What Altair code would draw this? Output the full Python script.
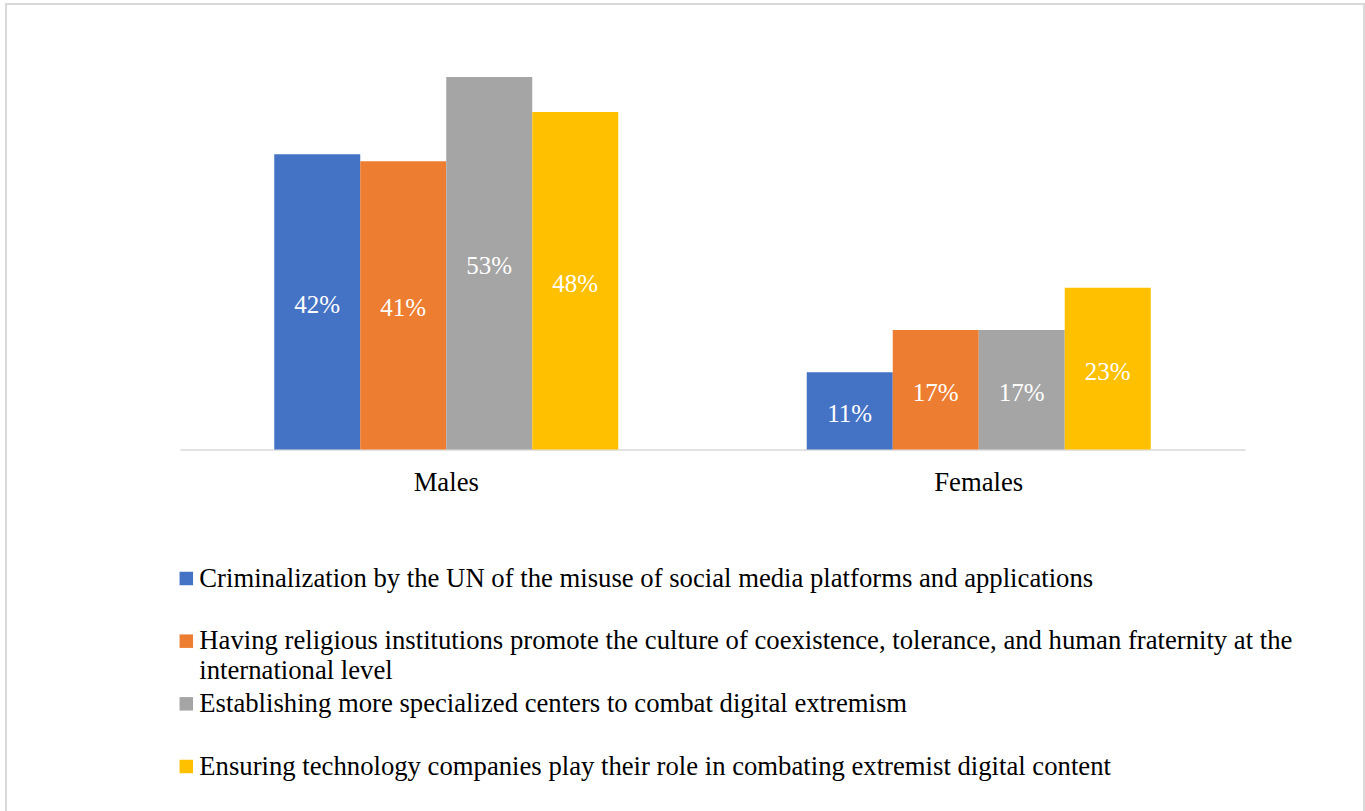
import altair as alt
import pandas as pd

# Survey responses by gender (share of respondents, %)
groups = ["Males", "Females"]
series = [
    "Criminalization by the UN of the misuse of social media platforms and applications",
    "Having religious institutions promote the culture of coexistence, tolerance, and human fraternity at the international level",
    "Establishing more specialized centers to combat digital extremism",
    "Ensuring technology companies play their role in combating extremist digital content",
]
legend_text = [
    series[0],
    "Having religious institutions promote the culture of coexistence, tolerance, and human fraternity at the\ninternational level",
    series[2],
    series[3],
]
males = [42, 41, 53, 48]
females = [11, 17, 17, 23]
colors = ["#4472C4", "#ED7D31", "#A5A5A5", "#FFC000"]

rows = []
for g, vals in zip(groups, [males, females]):
    for s, v in zip(series, vals):
        rows.append({"group": g, "series": s, "value": v})
bars_df = pd.DataFrame(rows)
legend_df = pd.DataFrame({"series": series, "label": legend_text})

FONT = "Liberation Serif"
TEXT_SIZE = 26.7
W, H = 1358, 812
BASE_Y = 445.5

color_scale = alt.Scale(domain=series, range=colors)
x_scale = alt.Scale(domain=groups, range=[174, 1239], paddingInner=0.354, paddingOuter=0.177)
y_scale = alt.Scale(domain=[0, 60], range=[BASE_Y, 23.7], nice=False, zero=True)

base = alt.Chart(bars_df).encode(
    x=alt.X(
        "group:N",
        sort=groups,
        scale=x_scale,
        title=None,
        axis=alt.Axis(
            orient="bottom",
            offset=BASE_Y - H,
            ticks=False,
            grid=False,
            labelAngle=0,
            labelFont=FONT,
            labelFontSize=TEXT_SIZE,
            labelColor="#000000",
            labelPadding=20,
            domainColor="#D9D9D9",
            domainWidth=1.5,
        ),
    ),
    xOffset=alt.XOffset("series:N", sort=series, scale=alt.Scale(domain=series)),
)

bars = base.mark_bar().encode(
    y=alt.Y("value:Q", scale=y_scale, axis=None),
    color=alt.Color("series:N", scale=color_scale, legend=None),
)

bar_labels = base.transform_calculate(
    mid="datum.value / 2", txt="datum.value + '%'"
).mark_text(color="#FFFFFF", font=FONT, fontSize=25, baseline="middle", dy=3).encode(
    y=alt.Y("mid:Q", scale=y_scale, axis=None),
    text="txt:N",
)

legend_y = alt.Y(
    "series:N",
    sort=series,
    scale=alt.Scale(type="point", domain=series, range=[574.5, 762.5], padding=0),
    axis=None,
)

legend_marks = alt.Chart(legend_df).mark_square(size=182, opacity=1).encode(
    x=alt.value(180.3),
    y=legend_y,
    color=alt.Color("series:N", scale=color_scale, legend=None),
)

legend_labels = alt.Chart(legend_df).mark_text(
    font=FONT, fontSize=TEXT_SIZE, color="#000000", align="left", baseline="alphabetic",
    dy=8, lineBreak="\n", lineHeight=30,
).encode(
    x=alt.value(193.3),
    y=legend_y,
    text="label:N",
)

chart = (
    alt.layer(
        alt.layer(bars, bar_labels),
        alt.layer(legend_marks, legend_labels),
    )
    .resolve_scale(y="independent")
    .properties(
        width=W,
        height=H,
        padding={"left": 6, "top": 4, "right": 1, "bottom": 0},
        autosize=alt.AutoSizeParams(type="none"),
        background="#FFFFFF",
    )
    .configure_view(stroke="#D9D9D9", strokeWidth=2)
)

chart.save("out.html", embed_options={"renderer": "svg", "actions": False})
